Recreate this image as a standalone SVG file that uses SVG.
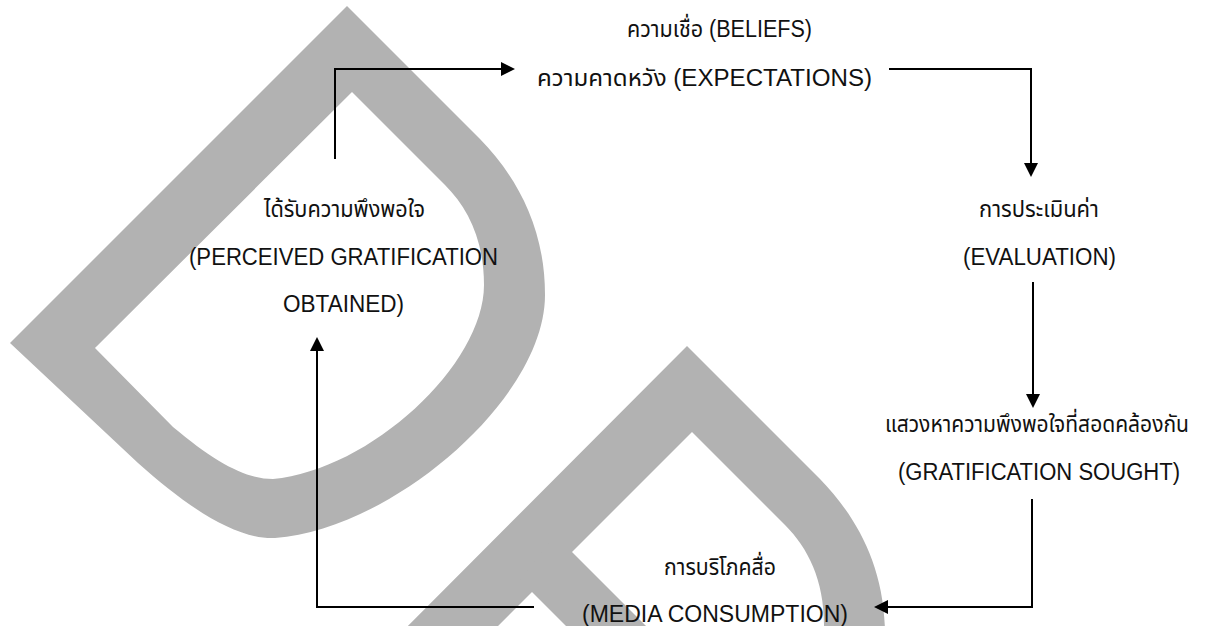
<svg xmlns="http://www.w3.org/2000/svg" width="1212" height="626" viewBox="0 0 1212 626">
<defs>
<style>
.wm{fill:#b2b2b2;stroke:none}
.t{font-family:"Liberation Sans","Noto Sans Thai","Noto Sans",sans-serif;font-size:23px;fill:#111;text-anchor:middle}
.c{fill:none;stroke:#000;stroke-width:2}
</style>
<marker id="ah" markerUnits="userSpaceOnUse" markerWidth="14" markerHeight="14" refX="8" refY="7" orient="auto"><path d="M0,0 L14,7 L0,14 Z" fill="#000"/></marker>
</defs>
<rect width="1212" height="626" fill="#fff"/>
<g id="watermark">
<path class="wm" fill-rule="evenodd" d="M347,6 L480,139 C515,175 545,225 545,295 C545,400 390,530 275,538 C235,540 185,505 138,463 L10,343 Z M352,92 L445,185 C468,208 484,240 484,285 C484,365 370,470 273,479 C245,479 215,462 173,427 L95,348 Z"/>
<path class="wm" d="M360,674 L687,346 L820,479 C855,515 885,565 885,635 L885,700 L824,700 L824,625 C824,580 808,548 785,525 L692,432 L420,704 Z"/>
<path class="wm" d="M555,535 L700,680 L650,710 L520,580 Z"/>
</g>
<g id="connectors">
<path class="c" d="M335,159 V69 H509" marker-end="url(#ah)"/>
<path class="c" d="M889,69 H1031 V171" marker-end="url(#ah)"/>
<path class="c" d="M1033,282 V402" marker-end="url(#ah)"/>
<path class="c" d="M1032,499 V607 H880" marker-end="url(#ah)"/>
<path class="c" d="M534,607 H317 V343" marker-end="url(#ah)"/>
</g>
<g id="beliefs">
<text class="t" x="719.5" y="37" textLength="185" lengthAdjust="spacingAndGlyphs">ความเชื่อ (BELIEFS)</text>
<text class="t" x="704.5" y="86" textLength="335" lengthAdjust="spacingAndGlyphs">ความคาดหวัง (EXPECTATIONS)</text>
</g>
<g id="evaluation">
<text class="t" x="1039" y="217" textLength="120" lengthAdjust="spacingAndGlyphs">การประเมินค่า</text>
<text class="t" x="1039.5" y="265" textLength="153" lengthAdjust="spacingAndGlyphs">(EVALUATION)</text>
</g>
<g id="sought">
<text class="t" x="1037" y="432" textLength="304" lengthAdjust="spacingAndGlyphs">แสวงหาความพึงพอใจที่สอดคล้องกัน</text>
<text class="t" x="1039" y="480" textLength="282" lengthAdjust="spacingAndGlyphs">(GRATIFICATION SOUGHT)</text>
</g>
<g id="consumption">
<text class="t" x="720" y="575" textLength="112" lengthAdjust="spacingAndGlyphs">การบริโภคสื่อ</text>
<text class="t" x="715" y="622" textLength="266" lengthAdjust="spacingAndGlyphs">(MEDIA CONSUMPTION)</text>
</g>
<g id="obtained">
<text class="t" x="344.5" y="217" textLength="161" lengthAdjust="spacingAndGlyphs">ได้รับความพึงพอใจ</text>
<text class="t" x="343.5" y="265" textLength="309" lengthAdjust="spacingAndGlyphs">(PERCEIVED GRATIFICATION</text>
<text class="t" x="343.5" y="312" textLength="121" lengthAdjust="spacingAndGlyphs">OBTAINED)</text>
</g>
</svg>
